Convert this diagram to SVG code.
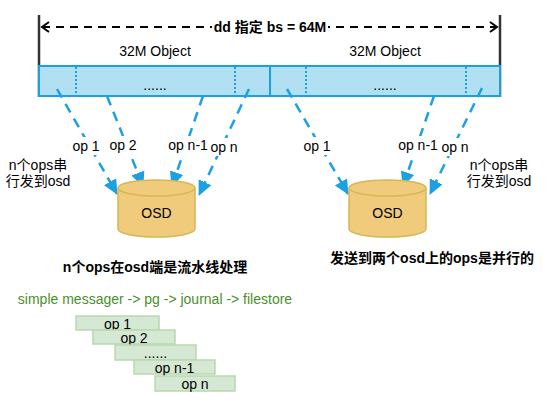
<svg xmlns="http://www.w3.org/2000/svg" width="557" height="411" viewBox="0 0 557 411">
<style>
text{font-family:"Liberation Sans",Arial,"Noto Sans CJK SC",sans-serif;font-size:14px;fill:#000}
.c{text-anchor:middle}
.b{font-weight:bold}
.bg{fill:#fff}
.conn{stroke:#1ba1e2;stroke-width:2.5;stroke-dasharray:10 7;fill:none;marker-end:url(#ah)}
.bar{fill:#b1e0f2;stroke:#1ba1e2;stroke-width:2}
.dot{stroke:#1ba1e2;stroke-width:2;stroke-dasharray:2 2}
.cyl{fill:#efcb7b;stroke:#d6b656;stroke-width:1.5}
.gb{fill:#d5e8d4;stroke:#b9d7ae;stroke-width:1.5}
</style>
<defs>
<marker id="ah" markerUnits="userSpaceOnUse" markerWidth="16" markerHeight="16" viewBox="0 0 16 16" refX="14" refY="8" orient="auto">
<path d="M0,1 L15,8 L0,15 z" fill="#1ba1e2"/>
</marker>
<marker id="oa" markerUnits="userSpaceOnUse" markerWidth="12" markerHeight="12" viewBox="0 0 12 12" refX="10" refY="6" orient="auto-start-reverse">
<path d="M3,1 L10,6 L3,11" fill="none" stroke="#000" stroke-width="2"/>
</marker>
</defs>

<g id="span">
<line x1="39" y1="15" x2="39" y2="97" stroke="#333" stroke-width="2.5"/>
<line x1="500" y1="15" x2="500" y2="97" stroke="#333" stroke-width="2.5"/>
<line x1="42" y1="27" x2="497" y2="27" stroke="#000" stroke-width="2" stroke-dasharray="8 6" marker-start="url(#oa)" marker-end="url(#oa)"/>
<rect class="bg" x="212" y="18" width="116" height="18"/>
<text class="c b" x="270" y="32">dd 指定 bs = 64M</text>
</g>

<g id="obj1">
<text class="c" x="155" y="56">32M Object</text>
<rect class="bar" x="39" y="66" width="231" height="30"/>
<line class="dot" x1="76" y1="67" x2="76" y2="95"/>
<line class="dot" x1="235" y1="67" x2="235" y2="95"/>
<text class="c" x="155" y="90">......</text>
</g>
<g id="obj2">
<text class="c" x="385" y="56">32M Object</text>
<rect class="bar" x="270" y="66" width="230" height="30"/>
<line class="dot" x1="306" y1="67" x2="306" y2="95"/>
<line class="dot" x1="466" y1="67" x2="466" y2="95"/>
<text class="c" x="385" y="90">......</text>
</g>

<g id="connectors">
<line class="conn" x1="57" y1="89" x2="117" y2="194"/>
<line class="conn" x1="107" y1="96" x2="143" y2="186"/>
<line class="conn" x1="203" y1="96" x2="172" y2="186"/>
<line class="conn" x1="249" y1="89" x2="199" y2="195"/>
<line class="conn" x1="287" y1="89" x2="348" y2="194"/>
<line class="conn" x1="434" y1="96" x2="403" y2="186"/>
<line class="conn" x1="482" y1="88" x2="430" y2="194"/>
<rect class="bg" x="70" y="137" width="32" height="18"/>
<text class="c" x="86" y="151">op 1</text>
<rect class="bg" x="107" y="136" width="32" height="18"/>
<text class="c" x="123" y="150">op 2</text>
<rect class="bg" x="166" y="136" width="44" height="18"/>
<text class="c" x="188" y="150">op n-1</text>
<rect class="bg" x="210" y="138" width="29" height="18"/>
<text class="c" x="224" y="152">op n</text>
<rect class="bg" x="301" y="137" width="32" height="18"/>
<text class="c" x="317" y="151">op 1</text>
<rect class="bg" x="396" y="136" width="44" height="18"/>
<text class="c" x="418" y="150">op n-1</text>
<rect class="bg" x="441" y="138" width="29" height="18"/>
<text class="c" x="455" y="152">op n</text>
</g>

<g id="osd1">
<path class="cyl" d="M118,188 a38.5,8 0 0 1 77,0 v41 a38.5,8 0 0 1 -77,0 z"/>
<path d="M118,188 a38.5,8 0 0 0 77,0" fill="none" stroke="#d6b656" stroke-width="1.5"/>
<text class="c" x="156.5" y="218">OSD</text>
</g>
<g id="osd2">
<path class="cyl" d="M349,188 a38.5,8 0 0 1 77,0 v41 a38.5,8 0 0 1 -77,0 z"/>
<path d="M349,188 a38.5,8 0 0 0 77,0" fill="none" stroke="#d6b656" stroke-width="1.5"/>
<text class="c" x="387.5" y="218">OSD</text>
</g>

<g id="note-left">
<text class="c" x="38" y="170">n个ops串</text>
<text class="c" x="38" y="186">行发到osd</text>
</g>
<g id="note-right">
<text class="c" x="499" y="170">n个ops串</text>
<text class="c" x="499" y="186">行发到osd</text>
</g>

<g id="caption-left">
<text class="c b" x="155" y="272">n个ops在osd端是流水线处理</text>
</g>
<g id="caption-right">
<text class="c b" x="432" y="263">发送到两个osd上的ops是并行的</text>
</g>

<g id="pipeline">
<text class="c" x="155" y="304" style="fill:#4a8f2a">simple messager -&gt; pg -&gt; journal -&gt; filestore</text>
<rect class="gb" x="76" y="316" width="83" height="14"/>
<text class="c" x="117.5" y="329">op 1</text>
<rect class="gb" x="93" y="330" width="82" height="14"/>
<text class="c" x="134" y="343">op 2</text>
<rect class="gb" x="115" y="345" width="81" height="15"/>
<text class="c" x="155.5" y="358">......</text>
<rect class="gb" x="134" y="360" width="81" height="14"/>
<text class="c" x="174.5" y="373">op n-1</text>
<rect class="gb" x="155" y="376" width="80" height="15"/>
<text class="c" x="195" y="389">op n</text>
</g>
</svg>
